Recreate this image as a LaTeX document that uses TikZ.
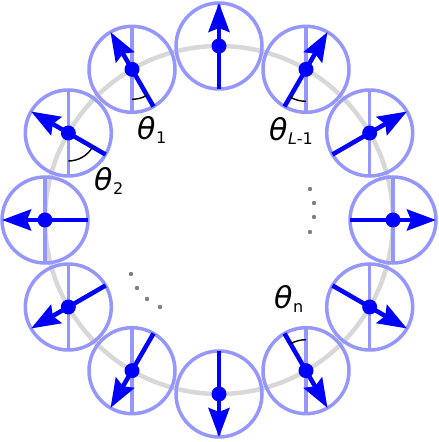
\documentclass[tikz,border=0pt]{standalone}
\usepackage{fontspec}
\setmainfont{DejaVu Sans}
\usetikzlibrary{arrows.meta}
\definecolor{ringblue}{RGB}{150,150,255}
\definecolor{spinblue}{RGB}{0,0,255}
\definecolor{ringgray}{RGB}{216,216,216}
\definecolor{dotgray}{RGB}{128,128,128}
\newcommand{\thlab}[1]{\textit{θ}\kern0.5pt\raisebox{-4pt}{\fontsize{16}{16}\selectfont #1}}
\begin{document}
\begin{tikzpicture}[x=1pt,y=1pt,
  site/.style={draw=ringblue, line width=3.5pt},
  axisline/.style={draw=ringblue, line width=3.5pt},
  spin/.style={draw=spinblue, line width=4.5pt, -{Stealth[length=29pt,width=21pt,inset=4pt]}},
  anglearc/.style={draw=black, line width=1.4pt},
  lab/.style={inner sep=0pt, font=\fontsize{30}{30}\selectfont},
  gdot/.style={fill=dotgray}
]
\useasboundingbox (0,0) rectangle (439,442);
\coordinate (O) at (219,222);
\draw[ringgray, line width=4.5pt] (O) circle (174);
\foreach \a in {0,30,...,330} {
  \coordinate (c\a) at ([shift={(\a:174)}]O);
}
\foreach \a in {0,30,...,330} {
  \draw[site] (c\a) circle (43);
  \draw[axisline] ([yshift=-43]c\a) -- ([yshift=43]c\a);
}
\foreach \a in {0,30,...,330} {
  \draw[spin] ([shift={(\a+180:43)}]c\a) -- ([shift={(\a:43)}]c\a);
  \fill[spinblue] (c\a) circle (7.5);
}
% angle arcs
\draw[anglearc] ([shift={(270:30)}]c120) arc[start angle=270, end angle=300, radius=30];
\draw[anglearc] ([shift={(270:28)}]c150) arc[start angle=270, end angle=330, radius=28];
\draw[anglearc] ([shift={(240:32)}]c60) arc[start angle=240, end angle=270, radius=32];
\draw[anglearc] ([shift={(90:31)}]c300) arc[start angle=90, end angle=120, radius=31];
% labels
\node[lab, anchor=base west] (t1) at (137,302) {\thlab{1}};
\node[lab, anchor=base west] (t2) at (94,251) {\thlab{2}};
\node[lab, anchor=base west] (tL) at (269,301) {\thlab{\textit{L}-1}};
\node[lab, anchor=base west] (tn) at (274,133) {\thlab{n}};
% ellipsis dots
\foreach \p in {(310,253),(314,239),(314,225),(310,210),(131,168),(137,154),(147,143),(160,135)} {
  \fill[gdot] \p circle (2.2);
}
\end{tikzpicture}
\end{document}
